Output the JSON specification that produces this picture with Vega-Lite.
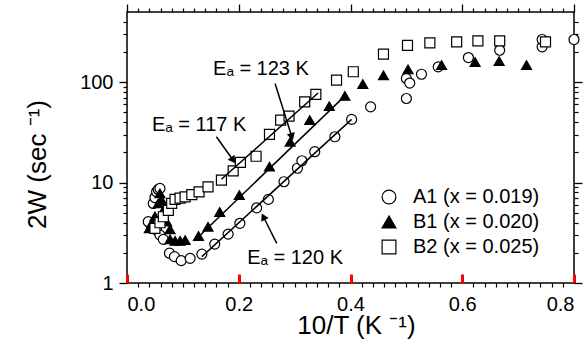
{
  "$schema": "https://vega.github.io/schema/vega-lite/v6.json",
  "width": 447,
  "height": 271,
  "autosize": "none",
  "padding": {"left": 127, "top": 12, "right": 13, "bottom": 62},
  "background": "white",
  "config": {
    "view": {"stroke": "black", "strokeWidth": 1.5},
    "font": "Liberation Sans",
    "axis": {
      "grid": false,
      "domain": false,
      "labelColor": "black",
      "titleColor": "black",
      "labelFont": "Liberation Sans",
      "titleFont": "Liberation Sans",
      "labelFontSize": 20,
      "titleFontSize": 26,
      "titleFontWeight": "normal"
    },
    "legend": {"labelFont": "Liberation Sans", "labelColor": "black"}
  },
  "datasets": {
    "pts": [
      {"series": "A1 (x = 0.019)", "x": 0.038, "y": 4.08},
      {"series": "A1 (x = 0.019)", "x": 0.047, "y": 6.2},
      {"series": "A1 (x = 0.019)", "x": 0.050, "y": 7.1},
      {"series": "A1 (x = 0.019)", "x": 0.053, "y": 8.1},
      {"series": "A1 (x = 0.019)", "x": 0.056, "y": 8.55},
      {"series": "A1 (x = 0.019)", "x": 0.059, "y": 8.75},
      {"series": "A1 (x = 0.019)", "x": 0.053, "y": 3.37},
      {"series": "A1 (x = 0.019)", "x": 0.059, "y": 3.0},
      {"series": "A1 (x = 0.019)", "x": 0.065, "y": 2.72},
      {"series": "A1 (x = 0.019)", "x": 0.076, "y": 1.98},
      {"series": "A1 (x = 0.019)", "x": 0.085, "y": 1.83},
      {"series": "A1 (x = 0.019)", "x": 0.097, "y": 1.67},
      {"series": "A1 (x = 0.019)", "x": 0.113, "y": 1.76},
      {"series": "A1 (x = 0.019)", "x": 0.134, "y": 1.94},
      {"series": "A1 (x = 0.019)", "x": 0.157, "y": 2.44},
      {"series": "A1 (x = 0.019)", "x": 0.181, "y": 3.07},
      {"series": "A1 (x = 0.019)", "x": 0.202, "y": 3.93},
      {"series": "A1 (x = 0.019)", "x": 0.232, "y": 5.6},
      {"series": "A1 (x = 0.019)", "x": 0.253, "y": 6.8},
      {"series": "A1 (x = 0.019)", "x": 0.281, "y": 10.2},
      {"series": "A1 (x = 0.019)", "x": 0.305, "y": 13.9},
      {"series": "A1 (x = 0.019)", "x": 0.313, "y": 16.5},
      {"series": "A1 (x = 0.019)", "x": 0.336, "y": 20.3},
      {"series": "A1 (x = 0.019)", "x": 0.372, "y": 28.6},
      {"series": "A1 (x = 0.019)", "x": 0.402, "y": 42.6},
      {"series": "A1 (x = 0.019)", "x": 0.436, "y": 56.8},
      {"series": "A1 (x = 0.019)", "x": 0.500, "y": 68.8},
      {"series": "A1 (x = 0.019)", "x": 0.500, "y": 109},
      {"series": "A1 (x = 0.019)", "x": 0.506, "y": 98},
      {"series": "A1 (x = 0.019)", "x": 0.527, "y": 120},
      {"series": "A1 (x = 0.019)", "x": 0.557, "y": 142},
      {"series": "A1 (x = 0.019)", "x": 0.611, "y": 176},
      {"series": "A1 (x = 0.019)", "x": 0.667, "y": 208},
      {"series": "A1 (x = 0.019)", "x": 0.743, "y": 225},
      {"series": "A1 (x = 0.019)", "x": 0.743, "y": 266},
      {"series": "A1 (x = 0.019)", "x": 0.800, "y": 266},
      {"series": "B1 (x = 0.020)", "x": 0.040, "y": 3.5},
      {"series": "B1 (x = 0.020)", "x": 0.044, "y": 3.9},
      {"series": "B1 (x = 0.020)", "x": 0.050, "y": 4.6},
      {"series": "B1 (x = 0.020)", "x": 0.056, "y": 6.2},
      {"series": "B1 (x = 0.020)", "x": 0.059, "y": 7.8},
      {"series": "B1 (x = 0.020)", "x": 0.062, "y": 6.7},
      {"series": "B1 (x = 0.020)", "x": 0.065, "y": 5.3},
      {"series": "B1 (x = 0.020)", "x": 0.071, "y": 4.08},
      {"series": "B1 (x = 0.020)", "x": 0.077, "y": 3.42},
      {"series": "B1 (x = 0.020)", "x": 0.077, "y": 2.72},
      {"series": "B1 (x = 0.020)", "x": 0.086, "y": 2.63},
      {"series": "B1 (x = 0.020)", "x": 0.095, "y": 2.63},
      {"series": "B1 (x = 0.020)", "x": 0.104, "y": 2.68},
      {"series": "B1 (x = 0.020)", "x": 0.128, "y": 2.94},
      {"series": "B1 (x = 0.020)", "x": 0.145, "y": 3.63},
      {"series": "B1 (x = 0.020)", "x": 0.166, "y": 5.1},
      {"series": "B1 (x = 0.020)", "x": 0.201, "y": 7.5},
      {"series": "B1 (x = 0.020)", "x": 0.255, "y": 14.4},
      {"series": "B1 (x = 0.020)", "x": 0.292, "y": 25.5},
      {"series": "B1 (x = 0.020)", "x": 0.327, "y": 41.9},
      {"series": "B1 (x = 0.020)", "x": 0.362, "y": 57.7},
      {"series": "B1 (x = 0.020)", "x": 0.390, "y": 73},
      {"series": "B1 (x = 0.020)", "x": 0.422, "y": 95.6},
      {"series": "B1 (x = 0.020)", "x": 0.459, "y": 117},
      {"series": "B1 (x = 0.020)", "x": 0.503, "y": 134},
      {"series": "B1 (x = 0.020)", "x": 0.563, "y": 148},
      {"series": "B1 (x = 0.020)", "x": 0.623, "y": 159},
      {"series": "B1 (x = 0.020)", "x": 0.666, "y": 162},
      {"series": "B1 (x = 0.020)", "x": 0.715, "y": 148},
      {"series": "B2 (x = 0.025)", "x": 0.050, "y": 3.5},
      {"series": "B2 (x = 0.025)", "x": 0.059, "y": 3.98},
      {"series": "B2 (x = 0.025)", "x": 0.065, "y": 4.57},
      {"series": "B2 (x = 0.025)", "x": 0.074, "y": 5.3},
      {"series": "B2 (x = 0.025)", "x": 0.080, "y": 6.2},
      {"series": "B2 (x = 0.025)", "x": 0.086, "y": 6.8},
      {"series": "B2 (x = 0.025)", "x": 0.095, "y": 7.0},
      {"series": "B2 (x = 0.025)", "x": 0.104, "y": 7.2},
      {"series": "B2 (x = 0.025)", "x": 0.116, "y": 7.6},
      {"series": "B2 (x = 0.025)", "x": 0.129, "y": 8.1},
      {"series": "B2 (x = 0.025)", "x": 0.145, "y": 9.08},
      {"series": "B2 (x = 0.025)", "x": 0.169, "y": 10.6},
      {"series": "B2 (x = 0.025)", "x": 0.190, "y": 13.1},
      {"series": "B2 (x = 0.025)", "x": 0.203, "y": 15.9},
      {"series": "B2 (x = 0.025)", "x": 0.231, "y": 18.3},
      {"series": "B2 (x = 0.025)", "x": 0.255, "y": 30.2},
      {"series": "B2 (x = 0.025)", "x": 0.275, "y": 41.9},
      {"series": "B2 (x = 0.025)", "x": 0.290, "y": 46},
      {"series": "B2 (x = 0.025)", "x": 0.318, "y": 63.7},
      {"series": "B2 (x = 0.025)", "x": 0.338, "y": 75.5},
      {"series": "B2 (x = 0.025)", "x": 0.375, "y": 105},
      {"series": "B2 (x = 0.025)", "x": 0.405, "y": 127},
      {"series": "B2 (x = 0.025)", "x": 0.459, "y": 190},
      {"series": "B2 (x = 0.025)", "x": 0.502, "y": 233},
      {"series": "B2 (x = 0.025)", "x": 0.542, "y": 246},
      {"series": "B2 (x = 0.025)", "x": 0.590, "y": 252},
      {"series": "B2 (x = 0.025)", "x": 0.628, "y": 258},
      {"series": "B2 (x = 0.025)", "x": 0.667, "y": 258},
      {"series": "B2 (x = 0.025)", "x": 0.749, "y": 252}
    ],
    "fits": [
      {"series": "A1", "x": 0.134, "y": 1.83},
      {"series": "A1", "x": 0.402, "y": 42.6},
      {"series": "B1", "x": 0.122, "y": 2.68},
      {"series": "B1", "x": 0.390, "y": 73},
      {"series": "B2", "x": 0.169, "y": 10.8},
      {"series": "B2", "x": 0.342, "y": 78}
    ],
    "arrows": [
      {"id": "117", "x": 0.160, "y": 28.6, "x2": 0.190, "y2": 16.7},
      {"id": "123", "x": 0.265, "y": 97, "x2": 0.295, "y2": 28.6},
      {"id": "120", "x": 0.268, "y": 2.48, "x2": 0.244, "y2": 4.57}
    ],
    "labels": [
      {"label": "Eₐ = 117 K", "x": 0.0447, "y": 32.5},
      {"label": "Eₐ = 123 K", "x": 0.154, "y": 117},
      {"label": "Eₐ = 120 K", "x": 0.215, "y": 1.55}
    ]
  },
  "layer": [
    {
      "data": {"name": "pts"},
      "mark": {"type": "point", "filled": true, "strokeWidth": 1.2, "size": 100, "opacity": 1},
      "encoding": {
        "x": {
          "field": "x", "type": "quantitative",
          "scale": {"domain": [0, 0.8], "nice": false, "zero": false},
          "axis": {"orient": "bottom", "values": [0, 0.2, 0.4, 0.6, 0.8], "ticks": true, "tickSize": -9, "tickColor": "red", "tickWidth": 3, "labelPadding": 20, "format": ".1f",
            "title": "10/T (K ⁻¹)", "titleX": 229, "titleY": 50, "titleAlign": "center", "titleBaseline": "alphabetic"}
        },
        "y": {
          "field": "y", "type": "quantitative",
          "scale": {"type": "log", "domain": [1, 500], "nice": false},
          "axis": {"orient": "left", "values": [1, 10, 100], "ticks": true, "tickSize": 8, "tickColor": "black", "tickWidth": 1.3, "labelPadding": 6, "format": "d",
            "title": "2W (sec ⁻¹)", "titleX": -90, "titleY": 152, "titleAngle": -90, "titleAlign": "center", "titleBaseline": "middle"}
        },
        "shape": {
          "field": "series", "type": "nominal",
          "scale": {"domain": ["A1 (x = 0.019)", "B1 (x = 0.020)", "B2 (x = 0.025)"], "range": ["circle", "triangle-up", "square"]},
          "legend": {"orient": "none", "legendX": 252, "legendY": 175, "title": null, "labelFontSize": 20, "symbolSize": 190,
            "symbolStrokeWidth": 1.2, "labelOffset": 14, "rowPadding": 5, "padding": 0}
        },
        "fill": {
          "field": "series", "type": "nominal",
          "scale": {"domain": ["A1 (x = 0.019)", "B1 (x = 0.020)", "B2 (x = 0.025)"], "range": ["white", "black", "white"]},
          "legend": {"orient": "none", "legendX": 252, "legendY": 175, "title": null, "labelFontSize": 20, "symbolSize": 190,
            "symbolStrokeWidth": 1.2, "labelOffset": 14, "rowPadding": 5, "padding": 0}
        },
        "stroke": {
          "field": "series", "type": "nominal",
          "scale": {"domain": ["A1 (x = 0.019)", "B1 (x = 0.020)", "B2 (x = 0.025)"], "range": ["black", "black", "black"]},
          "legend": {"orient": "none", "legendX": 252, "legendY": 175, "title": null, "labelFontSize": 20, "symbolSize": 190,
            "symbolStrokeWidth": 1.2, "labelOffset": 14, "rowPadding": 5, "padding": 0}
        }
      }
    },
    {
      "data": {"name": "fits"},
      "mark": {"type": "line", "color": "black", "strokeWidth": 1.5},
      "encoding": {
        "x": {"field": "x", "type": "quantitative",
          "axis": {"orient": "bottom", "values": [0.02,0.04,0.06,0.08,0.1,0.12,0.14,0.16,0.18,0.22,0.24,0.26,0.28,0.3,0.32,0.34,0.36,0.38,0.42,0.44,0.46,0.48,0.5,0.52,0.54,0.56,0.58,0.62,0.64,0.66,0.68,0.7,0.72,0.74,0.76,0.78], "ticks": true, "tickSize": 4, "tickColor": "black", "tickWidth": 1.2, "labels": false, "title": null}},
        "y": {"field": "y", "type": "quantitative",
          "axis": {"orient": "left", "values": [2,3,4,5,6,7,8,9,20,30,40,50,60,70,80,90,200,300,400], "ticks": true, "tickSize": 4, "tickColor": "black", "tickWidth": 1.2, "labels": false, "title": null}},
        "detail": {"field": "series"}
      }
    },
    {
      "data": {"name": "arrows"},
      "mark": {"type": "rule", "color": "black", "strokeWidth": 1.5},
      "encoding": {
        "x": {"field": "x", "type": "quantitative",
          "axis": {"orient": "top", "values": [0, 0.2, 0.4, 0.6, 0.8], "ticks": true, "tickSize": 8, "tickColor": "black", "tickWidth": 1.3, "labels": false, "title": null}},
        "y": {"field": "y", "type": "quantitative",
          "axis": {"orient": "right", "values": [1, 10, 100], "ticks": true, "tickSize": 8, "tickColor": "black", "tickWidth": 1.3, "labels": false, "title": null}},
        "x2": {"field": "x2"},
        "y2": {"field": "y2"}
      }
    },
    {
      "data": {"name": "arrows"},
      "transform": [{"filter": "datum.id === '117'"}],
      "mark": {"type": "point", "shape": "triangle-up", "filled": true, "color": "black", "size": 70, "angle": 144.5, "opacity": 1},
      "encoding": {
        "x": {"field": "x2", "type": "quantitative",
          "axis": {"orient": "top", "values": [0.02,0.04,0.06,0.08,0.1,0.12,0.14,0.16,0.18,0.22,0.24,0.26,0.28,0.3,0.32,0.34,0.36,0.38,0.42,0.44,0.46,0.48,0.5,0.52,0.54,0.56,0.58,0.62,0.64,0.66,0.68,0.7,0.72,0.74,0.76,0.78], "ticks": true, "tickSize": 4, "tickColor": "black", "tickWidth": 1.2, "labels": false, "title": null}},
        "y": {"field": "y2", "type": "quantitative",
          "axis": {"orient": "right", "values": [2,3,4,5,6,7,8,9,20,30,40,50,60,70,80,90,200,300,400], "ticks": true, "tickSize": 4, "tickColor": "black", "tickWidth": 1.2, "labels": false, "title": null}}
      }
    },
    {
      "data": {"name": "arrows"},
      "transform": [{"filter": "datum.id === '123'"}],
      "mark": {"type": "point", "shape": "triangle-up", "filled": true, "color": "black", "size": 70, "angle": 162.6, "opacity": 1},
      "encoding": {
        "x": {"field": "x2", "type": "quantitative", "axis": null},
        "y": {"field": "y2", "type": "quantitative", "axis": null}
      }
    },
    {
      "data": {"name": "arrows"},
      "transform": [{"filter": "datum.id === '120'"}],
      "mark": {"type": "point", "shape": "triangle-up", "filled": true, "color": "black", "size": 70, "angle": 333.3, "opacity": 1},
      "encoding": {
        "x": {"field": "x2", "type": "quantitative", "axis": null},
        "y": {"field": "y2", "type": "quantitative", "axis": null}
      }
    },
    {
      "data": {"name": "labels"},
      "mark": {"type": "text", "align": "left", "baseline": "alphabetic", "fontSize": 20, "font": "Liberation Sans", "color": "black"},
      "encoding": {
        "x": {"field": "x", "type": "quantitative", "axis": null},
        "y": {"field": "y", "type": "quantitative", "axis": null},
        "text": {"field": "label"}
      }
    }
  ],
  "resolve": {"axis": {"x": "independent", "y": "independent"}}
}
